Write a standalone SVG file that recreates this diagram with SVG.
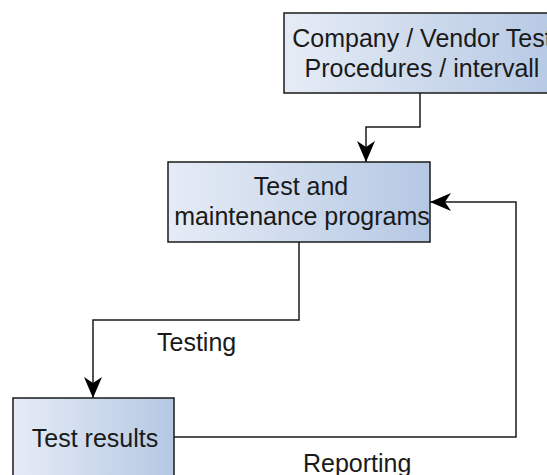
<svg xmlns="http://www.w3.org/2000/svg" width="547" height="475" viewBox="0 0 547 475">
<defs>
<linearGradient id="g" x1="0" y1="0" x2="1" y2="0">
<stop offset="0" stop-color="#e6ecf6"/>
<stop offset="1" stop-color="#b5c8e3"/>
</linearGradient>
<marker id="arr" viewBox="0 0 21 18" refX="21" refY="9" markerWidth="21" markerHeight="18" markerUnits="userSpaceOnUse" orient="auto">
<path d="M0,0 L21,9 L0,18 L6,9 Z" fill="#000"/>
</marker>
<style>
.box{fill:url(#g);stroke:#1a1a1a;stroke-width:1.5}
.t{font-family:"Liberation Sans",Arial,sans-serif;font-size:25px;fill:#1a1a1a;text-anchor:middle}
.l{font-family:"Liberation Sans",Arial,sans-serif;font-size:25px;fill:#1a1a1a}
.c{fill:none;stroke:#1a1a1a;stroke-width:1.5;marker-end:url(#arr)}
</style>
</defs>
<rect width="547" height="475" fill="#fff"/>
<g id="connectors">
<path class="c" d="M420,93 V127 H366 V162"/>
<path class="c" d="M299,242 V320 H93 V398"/>
<path class="c" d="M174,437 H516 V202 H430"/>
<text class="l" x="157" y="351">Testing</text>
<text class="l" x="303" y="472">Reporting</text>
</g>
<g id="n1">
<rect class="box" x="284" y="13" width="276" height="80"/>
<text class="t" x="422" y="47">Company / Vendor Test</text>
<text class="t" x="422" y="77">Procedures / intervall</text>
</g>
<g id="n2">
<rect class="box" x="168" y="162" width="262" height="80"/>
<text class="t" x="301" y="195">Test and</text>
<text class="t" x="302" y="225">maintenance programs</text>
</g>
<g id="n3">
<rect class="box" x="13" y="398" width="161" height="90"/>
<text class="t" x="95" y="447">Test results</text>
</g>
</svg>
